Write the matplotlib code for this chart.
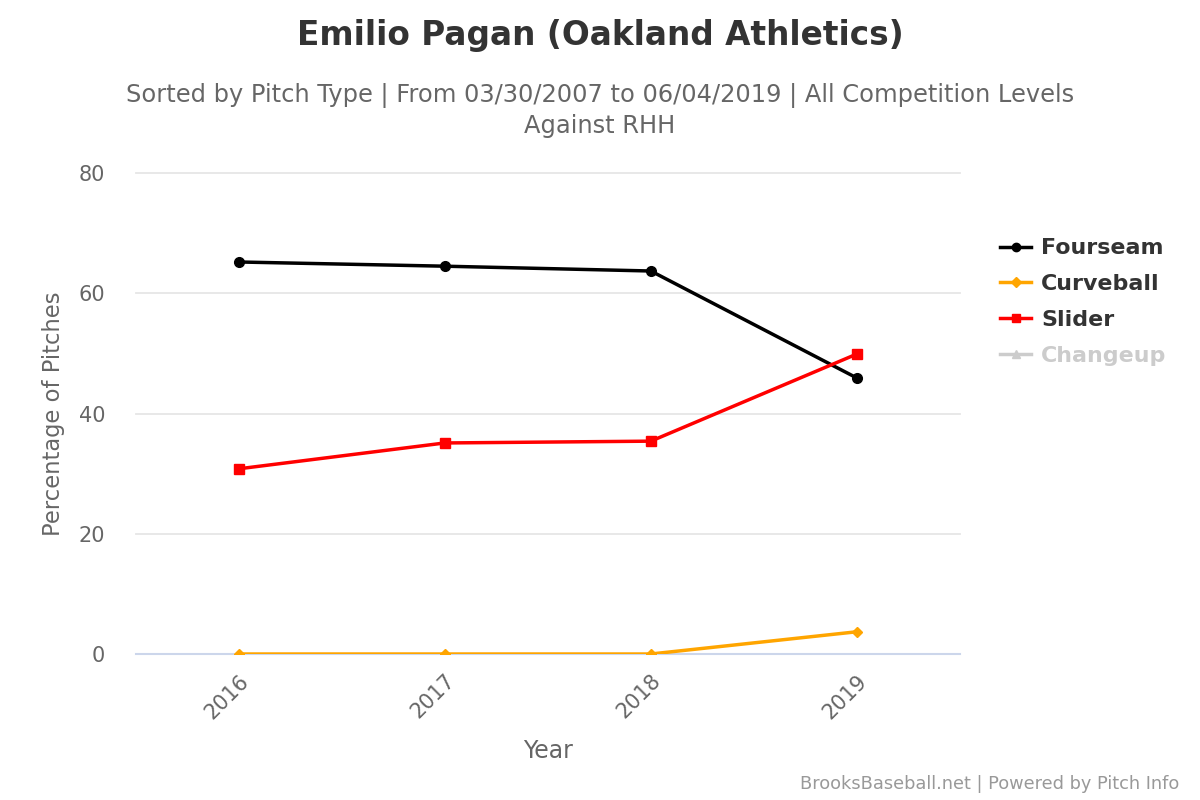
import matplotlib
matplotlib.use("Agg")
import matplotlib.pyplot as plt
import matplotlib.transforms as mtransforms
from matplotlib.lines import Line2D

# Pitch usage vs RHH, by season
years = ["2016", "2017", "2018", "2019"]
fourseam = [65.2, 64.5, 63.7, 45.9]
curveball = [0.0, 0.0, 0.0, 3.7]
slider = [30.8, 35.1, 35.4, 49.9]

series_names = ["Fourseam", "Curveball", "Slider", "Changeup"]
series_colors = ["#000000", "#FFA500", "#FF0000", "#CCCCCC"]
series_markers = ["o", "D", "s", "^"]
yticks = [0, 20, 40, 60, 80]

plt.rcParams["font.family"] = ["DejaVu Sans"]

fig = plt.figure(figsize=(12, 8), dpi=100)
ax = fig.add_axes([0.113, 0.1825, 0.687, 0.60125])

x = list(range(len(years)))
ax.plot(x, fourseam, color=series_colors[0], marker="o", markersize=7, linewidth=2.5, zorder=3)
ax.plot(x, curveball, color=series_colors[1], marker="D", markersize=5.5, linewidth=2.5, zorder=3)
ax.plot(x, slider, color=series_colors[2], marker="s", markersize=7, linewidth=2.5, zorder=4)

ax.set_xlim(-0.5, len(years) - 0.5)
ax.set_ylim(0, 80)
ax.set_yticks(yticks)
ax.set_xticks(x)
ax.set_xticklabels(years, rotation=45, ha="right", rotation_mode="anchor")
shift = mtransforms.ScaledTranslation(-5 / 100, 0, fig.dpi_scale_trans)
for lbl in ax.get_xticklabels():
    lbl.set_transform(lbl.get_transform() + shift)

# gridlines drawn by hand so the edge ones are not clipped
for v in yticks[1:]:
    ax.axhline(v, color="#e6e6e6", linewidth=1.3, zorder=0, clip_on=False)
ax.axhline(0, color="#ccd6eb", linewidth=1.5, zorder=1, clip_on=False)
for s in ax.spines.values():
    s.set_visible(False)
ax.tick_params(axis="both", length=0, labelsize=15, labelcolor="#666666")
ax.tick_params(axis="x", pad=12)
ax.tick_params(axis="y", pad=22)

ax.set_xlabel("Year", fontsize=17, color="#666666", labelpad=12)
ax.set_ylabel("Percentage of Pitches", fontsize=16.3, color="#666666", labelpad=10)

fig.text(0.5, 0.955, "Emilio Pagan (Oakland Athletics)", ha="center", va="center",
         fontsize=23.6, fontweight="bold", color="#333333")
fig.text(0.5, 0.88, "Sorted by Pitch Type | From 03/30/2007 to 06/04/2019 | All Competition Levels",
         ha="center", va="center", fontsize=17.4, color="#666666")
fig.text(0.5, 0.842, "Against RHH", ha="center", va="center", fontsize=17.4, color="#666666")
fig.text(0.983, 0.02, "BrooksBaseball.net | Powered by Pitch Info", ha="right", va="center",
         fontsize=12.8, color="#999999")

handles = [Line2D([0], [0], color=c, marker=m, linewidth=2.5,
                  markersize=6 if m != "D" else 5)
           for c, m in zip(series_colors, series_markers)]
leg = fig.legend(handles, series_names, loc="upper left", bbox_to_anchor=(0.817, 0.727),
                 frameon=False, fontsize=15.9, handlelength=1.4, handletextpad=0.45,
                 labelspacing=0.72)
for t, c in zip(leg.get_texts(), ["#333333", "#333333", "#333333", "#cccccc"]):
    t.set_color(c)
    t.set_fontweight("bold")

fig.savefig("out.png", dpi=100)
